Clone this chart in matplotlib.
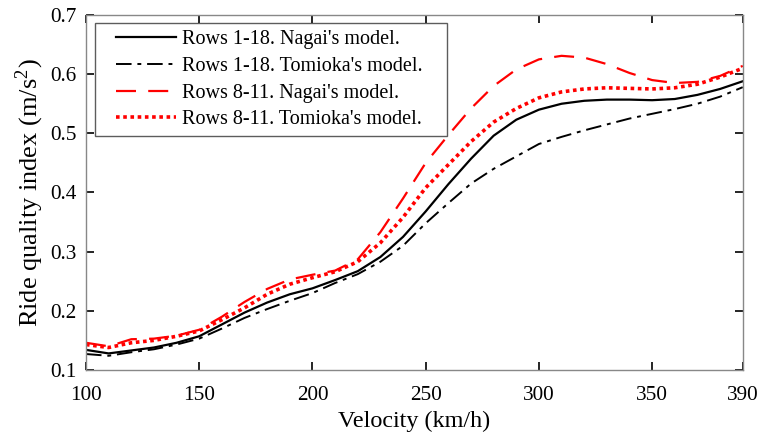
import matplotlib
matplotlib.use("Agg")
import matplotlib.pyplot as plt
from matplotlib.legend_handler import HandlerLine2D

velocity = [100, 110, 120, 130, 140, 150, 160, 170, 180, 190, 200, 210, 220, 230, 240,
            250, 260, 270, 280, 290, 300, 310, 320, 330, 340, 350, 360, 370, 380, 390]

nagai_1_18 = [0.134, 0.128, 0.133, 0.138, 0.146, 0.157, 0.177, 0.197, 0.214, 0.228,
              0.238, 0.252, 0.267, 0.291, 0.325, 0.368, 0.414, 0.457, 0.496, 0.523,
              0.540, 0.550, 0.555, 0.557, 0.557, 0.556, 0.558, 0.565, 0.575, 0.588]

tomioka_1_18 = [0.127, 0.124, 0.130, 0.135, 0.143, 0.153, 0.170, 0.188, 0.203, 0.217,
                0.230, 0.247, 0.262, 0.283, 0.310, 0.348, 0.382, 0.415, 0.440, 0.461,
                0.482, 0.494, 0.505, 0.515, 0.525, 0.533, 0.541, 0.550, 0.562, 0.578]

nagai_8_11 = [0.146, 0.140, 0.152, 0.153, 0.158, 0.168, 0.190, 0.215, 0.237, 0.253,
              0.261, 0.268, 0.287, 0.333, 0.390, 0.450, 0.497, 0.542, 0.580, 0.608,
              0.625, 0.631, 0.628, 0.617, 0.602, 0.590, 0.585, 0.587, 0.597, 0.614]

tomioka_8_11 = [0.143, 0.138, 0.146, 0.150, 0.157, 0.166, 0.185, 0.205, 0.228, 0.245,
                0.256, 0.266, 0.283, 0.315, 0.358, 0.408, 0.447, 0.486, 0.519, 0.542,
                0.560, 0.570, 0.575, 0.577, 0.576, 0.575, 0.577, 0.583, 0.595, 0.610]

labels = ["Rows 1-18. Nagai's model.", "Rows 1-18. Tomioka's model.",
          "Rows 8-11. Nagai's model.", "Rows 8-11. Tomioka's model."]
xticks = [100, 150, 200, 250, 300, 350, 390]
yticks = [0.1, 0.2, 0.3, 0.4, 0.5, 0.6, 0.7]

plt.rcParams['font.family'] = ['Liberation Serif', 'DejaVu Serif']
plt.rcParams['mathtext.fontset'] = 'stix'

fig = plt.figure(figsize=(7.61, 4.36), dpi=100)
ax = fig.add_axes([0.113, 0.1514, 0.863, 0.8142])

ax.plot(velocity, nagai_1_18, color='black', lw=1.6, ls='-', label=labels[0])
ax.plot(velocity, tomioka_1_18, color='black', lw=1.4, ls=(0, (8, 3, 2, 3)), label=labels[1])
ax.plot(velocity, nagai_8_11, color='red', lw=1.6, ls=(0, (9, 5.5)), label=labels[2])
ax.plot(velocity, tomioka_8_11, color='red', lw=2.6, ls=(0, (1, 1)), label=labels[3])

ax.set_xlim(100, 390)
ax.set_ylim(0.1, 0.7)
ax.set_xticks(xticks)
ax.set_yticks(yticks)
ax.set_yticklabels([f"{t:.1f}" for t in yticks])
ax.tick_params(direction='in', length=6, width=1.2, top=True, right=True,
               labelsize=15.3, colors='black')
ax.tick_params(axis='x', pad=11.5)
ax.tick_params(axis='y', pad=7)
for s in ax.spines.values():
    s.set_color('#888888')
    s.set_linewidth(1.0)

ax.set_xlabel("Velocity (km/h)", fontsize=17.4, labelpad=4)
ax.set_ylabel(r"Ride quality index (m/s$^{\mathregular{2}}$)", fontsize=19, labelpad=3)

hm = {l: HandlerLine2D(xpad=0.7) for l in ax.get_lines()}
leg = ax.legend(loc='upper left', bbox_to_anchor=(0.0137, 0.9775, 0.536, 0.0),
                mode='expand', fontsize=14.5, handler_map=hm,
                handlelength=3.67, frameon=True, fancybox=False, borderpad=0.35,
                labelspacing=0.38, handletextpad=0.3, borderaxespad=0)
leg.get_frame().set_edgecolor('#333333')
leg.get_frame().set_linewidth(1.0)

fig.savefig("out.png", dpi=100)
